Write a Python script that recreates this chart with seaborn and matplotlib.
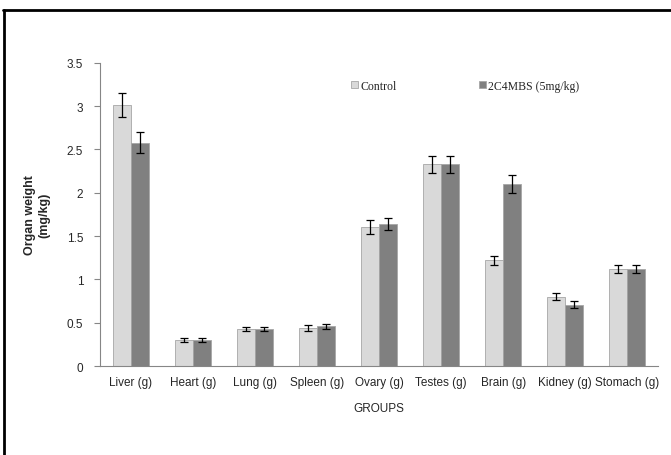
import numpy as np
import pandas as pd
import matplotlib
matplotlib.use("Agg")
import matplotlib.pyplot as plt
import seaborn as sns
from matplotlib.lines import Line2D

categories = ["Liver (g)", "Heart (g)", "Lung (g)", "Spleen (g)", "Ovary (g)",
              "Testes (g)", "Brain (g)", "Kidney (g)", "Stomach (g)"]
series_names = ["Control", "2C4MBS (5mg/kg)"]
control = [3.01, 0.30, 0.43, 0.44, 1.61, 2.33, 1.22, 0.80, 1.12]
control_err = [0.14, 0.02, 0.02, 0.03, 0.08, 0.10, 0.05, 0.04, 0.05]
treated = [2.58, 0.30, 0.43, 0.46, 1.64, 2.33, 2.10, 0.71, 1.12]
treated_err = [0.12, 0.02, 0.02, 0.03, 0.07, 0.10, 0.10, 0.04, 0.05]
yticks = [0, 0.5, 1, 1.5, 2, 2.5, 3, 3.5]
ytick_labels = ["0", "0.5", "1", "1.5", "2", "2.5", "3", "3.5"]

df = pd.DataFrame({
    "group": categories * 2,
    "series": [series_names[0]] * len(categories) + [series_names[1]] * len(categories),
    "value": control + treated,
})

sns.set_style("white")
plt.rcParams["font.family"] = ["Liberation Sans", "DejaVu Sans"]

fig = plt.figure(figsize=(6.71, 4.56), dpi=100)
ax = fig.add_axes([0.149, 0.195, 0.832, 0.665])

sns.barplot(data=df, x="group", y="value", hue="series", order=categories,
            hue_order=series_names, palette=["#d9d9d9", "#808080"],
            width=0.58, gap=0, errorbar=None, ax=ax, legend=True,
            edgecolor="#a6a6a6", linewidth=0.6, saturation=1)

# error bars at bar centres
errs = [control_err, treated_err]
vals = [control, treated]
bar_containers = list(ax.containers)
for ci, cont in enumerate(bar_containers):
    xs = [p.get_x() + p.get_width() / 2 for p in cont.patches]
    ax.errorbar(xs, vals[ci], yerr=errs[ci], fmt="none", ecolor="black",
                elinewidth=0.9, capsize=3, capthick=0.9, zorder=5)

ax.set_xlim(-0.5, len(categories) - 0.5)
ax.set_ylim(0, 3.5)
ax.set_yticks(yticks)
ax.set_yticklabels(ytick_labels, fontsize=8.5)
ax.set_xticks(range(len(categories)))
ax.set_xticklabels(categories, fontsize=8.5)
ax.tick_params(axis="x", which="major", length=0, pad=7)
ax.set_xticks(np.arange(-0.5, len(categories)), minor=True)
ax.tick_params(axis="x", which="minor", length=5, color="#868686", direction="out")
ax.tick_params(axis="y", length=4, color="#868686", direction="out", left=True, pad=8)

for s in ["top", "right"]:
    ax.spines[s].set_visible(False)
for s in ["left", "bottom"]:
    ax.spines[s].set_color("#868686")
    ax.spines[s].set_linewidth(0.8)

ax.set_xlabel("GROUPS", fontsize=8.5, labelpad=10)
ax.set_ylabel("Organ weight\n(mg/kg)", fontsize=9, fontweight="bold", labelpad=12)

leg = ax.legend(loc="upper left", bbox_to_anchor=(0.43, 0.98), ncol=2, frameon=False,
                prop={"family": ["Liberation Serif"], "size": 8.5},
                handlelength=0.6, handleheight=0.6, handletextpad=0.2,
                columnspacing=7.0)

fig.add_artist(Line2D([4 / 671, 4 / 671], [0, 1 - 11 / 456], transform=fig.transFigure,
                      color="black", linewidth=2))
fig.add_artist(Line2D([3 / 671, 1], [1 - 11 / 456, 1 - 11 / 456], transform=fig.transFigure,
                      color="black", linewidth=2))

fig.savefig("out.png", dpi=100)
